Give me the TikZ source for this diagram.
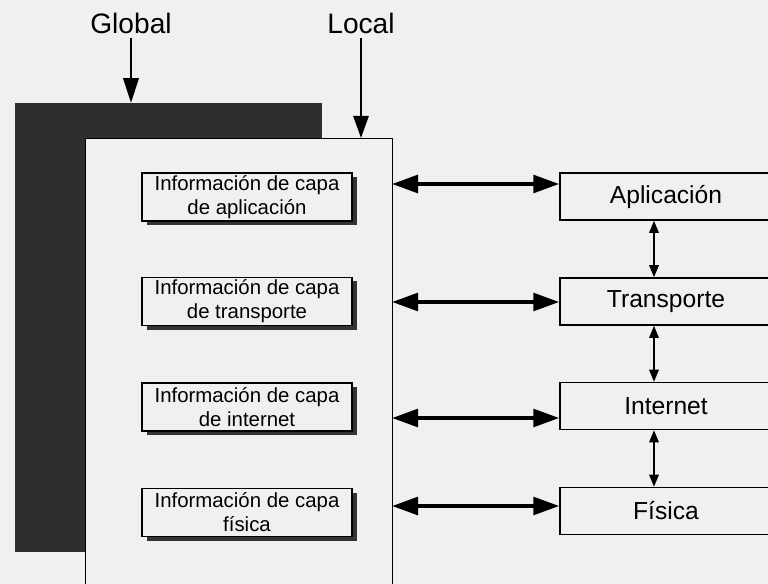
\documentclass[tikz,border=0pt]{standalone}
\usepackage{fontspec}
\setmainfont{Liberation Sans}
\usetikzlibrary{arrows.meta,shadows}

\colorlet{paper}{black!6}
\tikzset{
  capa/.style={draw, line width=1pt, fill=paper, inner sep=0pt,
    minimum width=5.3cm, minimum height=1.18cm,
    font=\fontsize{17.5}{20}\selectfont},
  info/.style={draw, line width=1pt, fill=paper, inner sep=0pt, align=center,
    minimum width=5.25cm, minimum height=1.2cm,
    font=\fontsize{14.5}{17}\selectfont,
    drop shadow={shadow xshift=0.12cm, shadow yshift=-0.1cm, fill=black!80, opacity=1}},
  big/.style={line width=2.8pt, {Triangle[length=0.65cm,width=0.44cm]}-{Triangle[length=0.65cm,width=0.44cm]}},
  small/.style={line width=0.9pt, {Triangle[length=0.3cm,width=0.24cm]}-{Triangle[length=0.3cm,width=0.24cm]}}
}

\begin{document}
\begin{tikzpicture}[x=0.025cm,y=-0.025cm]
\path[use as bounding box, fill=paper] (0,0) rectangle (768,584);

% regiones global y local
\node[fill=black!82, inner sep=0, anchor=north west, minimum width=7.675cm, minimum height=11.22cm] (global) at (15,103) {};
\node[draw, line width=1pt, fill=paper, inner sep=0, anchor=north west, minimum width=7.675cm, minimum height=11.8cm] (local) at (85,138) {};

\node[font=\fontsize{20}{24}\selectfont] (tglobal) at (131,23) {Global};
\node[font=\fontsize{20}{24}\selectfont] (tlocal) at (361,23) {Local};
\draw[line width=2pt, -{Triangle[length=0.62cm,width=0.38cm]}] (tglobal.south) -- (tglobal.south |- global.north);
\draw[line width=1.4pt, -{Triangle[length=0.55cm,width=0.38cm]}] (tlocal.south) -- (tlocal.south |- local.north);

% informacion de capa
\node[info] (i1) at (247,197) {Información de capa\\de aplicación};
\node[info] (i2) at (247,301.5) {Información de capa\\de transporte};
\node[info] (i3) at (247,407) {Información de capa\\de internet};
\node[info] (i4) at (247,512.5) {Información de capa\\física};

% capas
\node[capa] (apl) at (666,196.5) {Aplicación};
\node[capa] (tra) at (666,301.5) {Transporte};
\node[capa] (int) at (666,406) {Internet};
\node[capa] (fis) at (666,511) {Física};

\coordinate (e1) at (392,184);
\coordinate (e2) at (392,302);
\coordinate (e3) at (392,418);
\coordinate (e4) at (392,506);
\draw[big] (e1) -- (e1 -| apl.west);
\draw[big] (e2) -- (e2 -| tra.west);
\draw[big] (e3) -- (e3 -| int.west);
\draw[big] (e4) -- (e4 -| fis.west);

\draw[small] ([xshift=-0.3cm]apl.south) -- ([xshift=-0.3cm]tra.north);
\draw[small] ([xshift=-0.3cm]tra.south) -- ([xshift=-0.3cm]int.north);
\draw[small] ([xshift=-0.3cm]int.south) -- ([xshift=-0.3cm]fis.north);
\end{tikzpicture}
\end{document}
